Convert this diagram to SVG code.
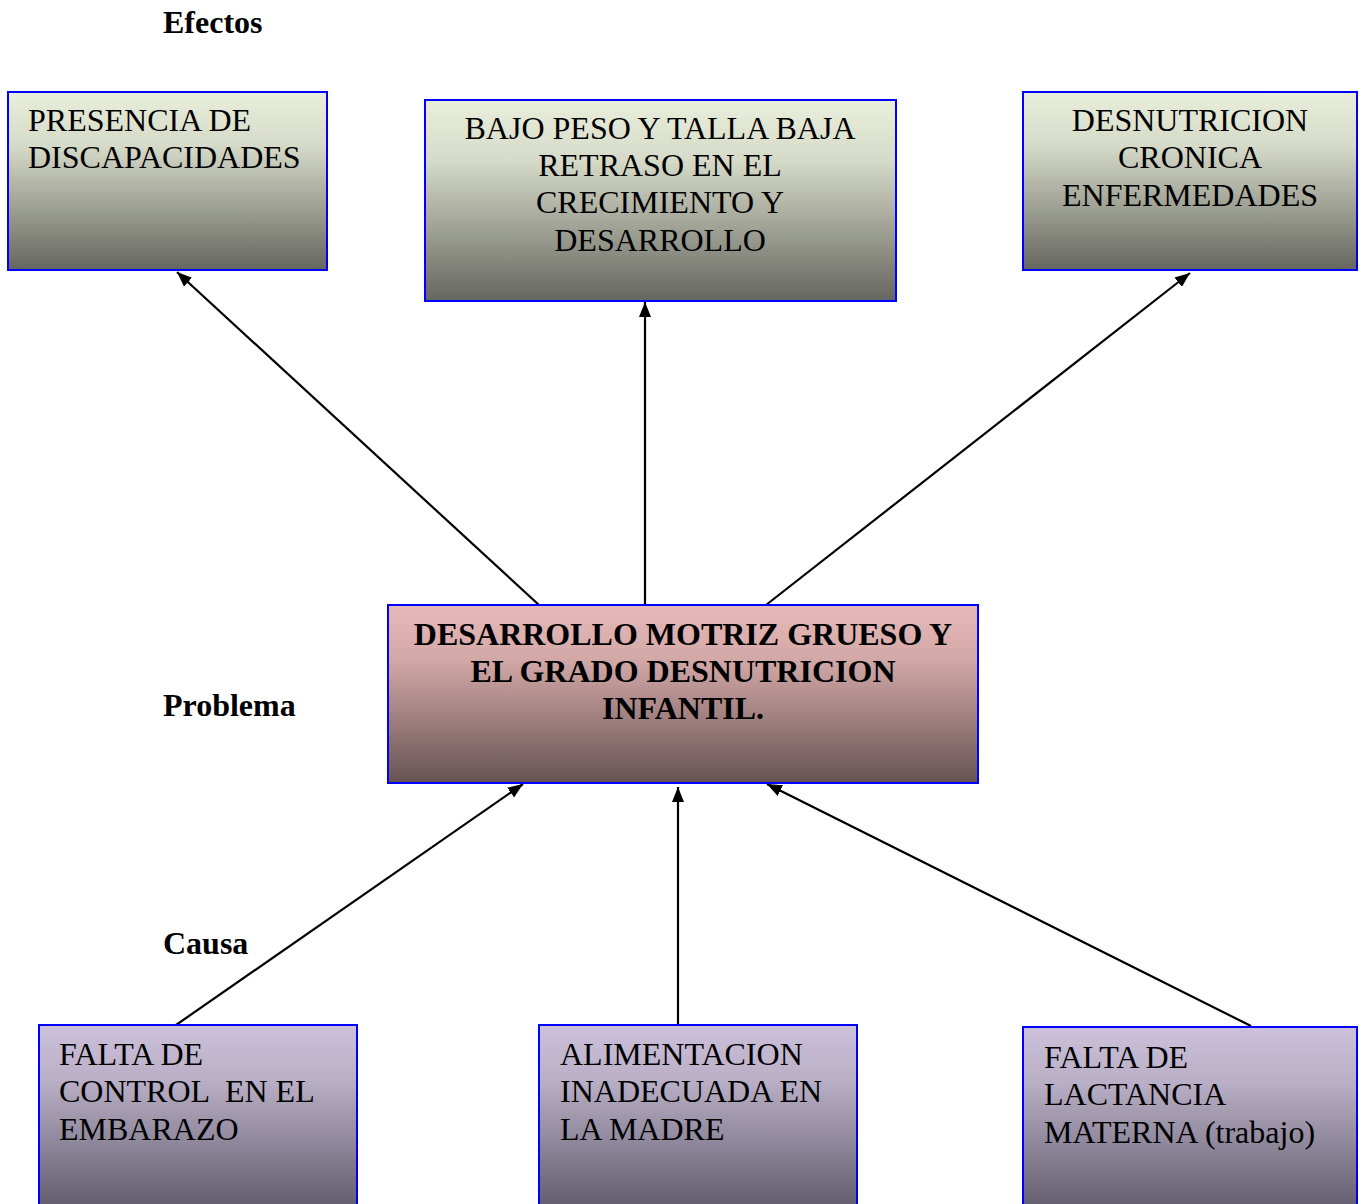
<svg xmlns="http://www.w3.org/2000/svg" width="1365" height="1204" viewBox="0 0 1365 1204">
<defs>
<linearGradient id="gTop" x1="0" y1="0" x2="0" y2="1">
<stop offset="0" stop-color="#eaefdc"/>
<stop offset="0.3" stop-color="#d6dac8"/>
<stop offset="1" stop-color="#65665f"/>
</linearGradient>
<linearGradient id="gMid" x1="0" y1="0" x2="0" y2="1">
<stop offset="0" stop-color="#e6b9b8"/>
<stop offset="0.3" stop-color="#d3a9a8"/>
<stop offset="1" stop-color="#675353"/>
</linearGradient>
<linearGradient id="gBot" x1="0" y1="0" x2="0" y2="1">
<stop offset="0" stop-color="#cdc1db"/>
<stop offset="0.3" stop-color="#b8aec5"/>
<stop offset="1" stop-color="#5d5868"/>
</linearGradient>
<marker id="ah" viewBox="0 0 10 10" refX="10" refY="5" markerWidth="15" markerHeight="12" markerUnits="userSpaceOnUse" orient="auto" preserveAspectRatio="none">
<path d="M0,0 L10,5 L0,10 z" fill="#000"/>
</marker>
</defs>
<style>
.box{stroke:#0000ff;stroke-width:2}
.t{font-family:"Liberation Serif","Times New Roman",serif;font-size:32px;fill:#000}
.b{font-family:"Liberation Serif","Times New Roman",serif;font-size:32px;font-weight:bold;fill:#000}
.lbl{font-family:"Liberation Serif","Times New Roman",serif;font-size:32px;font-weight:bold;fill:#000}
.c{stroke:#000;stroke-width:2.2;fill:none}
</style>
<rect width="1365" height="1204" fill="#fff"/>
<text class="lbl" x="163" y="33">Efectos</text>
<text class="lbl" x="163" y="716">Problema</text>
<text class="lbl" x="163" y="954">Causa</text>
<g id="connectors">
<line class="c" x1="539" y1="605" x2="177" y2="272" marker-end="url(#ah)"/>
<line class="c" x1="645" y1="605" x2="645" y2="302" marker-end="url(#ah)"/>
<line class="c" x1="766" y1="605" x2="1190" y2="273" marker-end="url(#ah)"/>
<line class="c" x1="176" y1="1025" x2="523" y2="784" marker-end="url(#ah)"/>
<line class="c" x1="678" y1="1028" x2="678" y2="787" marker-end="url(#ah)"/>
<line class="c" x1="1251" y1="1026" x2="767" y2="784" marker-end="url(#ah)"/>
</g>
<g id="e1">
<rect class="box" x="8" y="92" width="319" height="178" fill="url(#gTop)"/>
<text class="t" x="28" y="131">PRESENCIA DE</text>
<text class="t" x="28" y="168">DISCAPACIDADES</text>
</g>
<g id="e2">
<rect class="box" x="425" y="100" width="471" height="201" fill="url(#gTop)"/>
<text class="t" x="660" y="139" text-anchor="middle">BAJO PESO Y TALLA BAJA</text>
<text class="t" x="660" y="176" text-anchor="middle">RETRASO EN EL</text>
<text class="t" x="660" y="213" text-anchor="middle">CRECIMIENTO Y</text>
<text class="t" x="660" y="251" text-anchor="middle">DESARROLLO</text>
</g>
<g id="e3">
<rect class="box" x="1023" y="92" width="334" height="178" fill="url(#gTop)"/>
<text class="t" x="1190" y="131" text-anchor="middle">DESNUTRICION</text>
<text class="t" x="1190" y="168" text-anchor="middle">CRONICA</text>
<text class="t" x="1190" y="206" text-anchor="middle">ENFERMEDADES</text>
</g>
<g id="problema">
<rect class="box" x="388" y="605" width="590" height="178" fill="url(#gMid)"/>
<text class="b" x="683" y="645" text-anchor="middle">DESARROLLO MOTRIZ GRUESO Y</text>
<text class="b" x="683" y="682" text-anchor="middle">EL GRADO DESNUTRICION</text>
<text class="b" x="683" y="719" text-anchor="middle">INFANTIL.</text>
</g>
<g id="c1">
<rect class="box" x="39" y="1025" width="318" height="190" fill="url(#gBot)"/>
<text class="t" x="59" y="1065">FALTA DE</text>
<text class="t" x="59" y="1102" xml:space="preserve">CONTROL  EN EL</text>
<text class="t" x="59" y="1140">EMBARAZO</text>
</g>
<g id="c2">
<rect class="box" x="539" y="1025" width="318" height="190" fill="url(#gBot)"/>
<text class="t" x="560" y="1065">ALIMENTACION</text>
<text class="t" x="560" y="1102">INADECUADA EN</text>
<text class="t" x="560" y="1140">LA MADRE</text>
</g>
<g id="c3">
<rect class="box" x="1023" y="1027" width="334" height="190" fill="url(#gBot)"/>
<text class="t" x="1044" y="1068">FALTA DE</text>
<text class="t" x="1044" y="1105">LACTANCIA</text>
<text class="t" x="1044" y="1143">MATERNA (trabajo)</text>
</g>
</svg>
